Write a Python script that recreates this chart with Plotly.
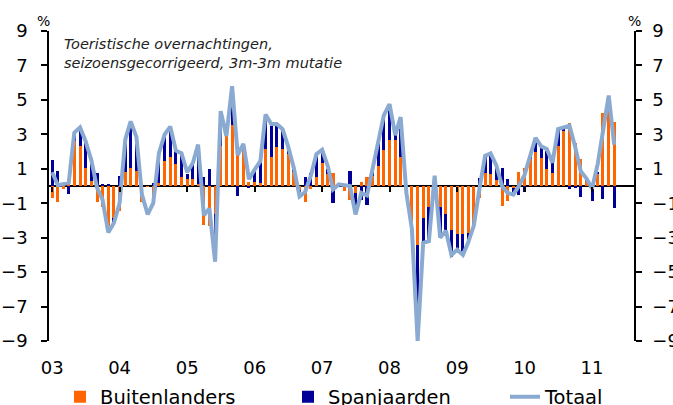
import pandas as pd
import plotly.graph_objects as go

months = pd.date_range("2003-01-01", periods=101, freq="MS").strftime("%Y-%m-%d").tolist()

buitenlanders = [
    -0.7, -0.9, -0.15, 0.2, 2.6, 2.3, 1.05, 0.3, -0.95, -1.2,
    -2.35, -1.85, -1.45, 0.8, 1.05, 0.9, -0.9, -0.05, -1.05, 0.15,
    1.45, 1.7, 1.25, 0.5, 0.4, 0.4, 0.1, -2.25, -2.35, -1.65,
    2.3, 2.95, 3.55, 2.4, 2.35, 0.25, 0.25, 0.15, 2.15, 1.7,
    2.25, 2.15, 1.85, 0.8, -0.25, -0.9, -0.2, 0.55, 1.35, 0.7,
    0.75, 0.1, -0.3, -0.8, -0.4, 0.25, 0.5, 0.6, 1.15, 2.1,
    2.7, 2.7, 1.7, -0.3, -2.35, -3.45, -1.85, -1.2, -0.1, -1.2,
    -1.65, -2.55, -2.8, -2.8, -2.75, -2.15, -0.7, 0.75, 0.7, 0.35,
    -1.15, -0.85, -0.1, 0.8, 1.05, 1.6, 2.0, 1.6, 1.0, 0.75,
    2.35, 3.2, 3.65, 2.5, 1.55, 0.3, 0.15, 0.7, 4.25, 4.9,
    3.7,
]
spanjaarden = [
    1.5, 0.9, 0.2, -0.45, 0.55, 1.1, 1.55, 1.3, 0.75, 0.1,
    0.1, -0.25, 0.6, 1.9, 2.7, 1.9, 0.0, 0.0, 0.2, 1.75,
    1.55, 1.75, 0.85, 1.3, 0.3, 0.95, 2.3, 0.55, 1.0, -2.7,
    2.05, 0.0, 2.25, -0.6, 0.1, -0.1, 0.75, 1.3, 1.9, 1.85,
    1.3, 1.1, 0.4, 0.2, -0.1, 0.5, 0.75, 1.3, 0.65, 0.3,
    -1.0, -0.05, 0.05, 0.85, -1.2, -0.8, -1.1, 0.3, 1.35, 2.0,
    2.05, 0.25, 2.3, 0.0, -0.25, -5.45, -1.45, -2.0, 0.3, -1.75,
    -0.9, -1.55, -0.9, -1.2, -0.55, -0.1, 0.45, 1.0, 1.05, 0.85,
    1.05, 0.4, -0.4, -0.55, -0.35, 0.1, 0.8, 0.75, 1.05, 0.65,
    0.95, 0.2, -0.15, -0.1, -0.65, 0.05, -0.85, 0.1, -0.75, 0.3,
    -1.25,
]
totaal = [
    0.8, 0.05, 0.1, 0.2, 3.1, 3.4, 2.6, 1.5, -0.1, -0.8,
    -2.7, -2.15, -1.0, 2.7, 3.75, 2.85, -0.5, -1.65, -1.0, 1.9,
    3.0, 3.45, 2.05, 1.9, 0.8, 1.35, 2.4, -1.7, -1.3, -4.4,
    4.35, 2.9, 5.8, 1.8, 2.45, 0.4, 0.95, 1.45, 4.15, 3.6,
    3.6, 3.3, 2.3, 1.05, -0.6, -0.35, 0.6, 1.85, 2.1, 1.15,
    -0.2, 0.1, 0.05, 0.0, -1.65, -0.4, -0.55, 0.9, 2.4, 4.1,
    4.75, 2.95, 4.0, -0.4, -2.5, -9.0, -3.3, -3.2, 0.6, -3.0,
    -2.6, -4.0, -3.7, -4.0, -3.3, -2.3, -0.2, 1.75, 1.9, 1.2,
    0.0, -0.4, -0.5, 0.0, 0.65, 1.7, 2.8, 2.3, 2.15, 1.35,
    3.3, 3.4, 3.5, 2.3, 0.85, 0.45, -0.15, 1.3, 3.05, 5.25,
    2.4,
]

year_ticks = ["2003-01-01", "2004-01-01", "2005-01-01", "2006-01-01", "2007-01-01",
              "2008-01-01", "2009-01-01", "2010-01-01", "2011-01-01"]
year_labels = ["03", "04", "05", "06", "07", "08", "09", "10", "11"]
y_ticks = [-9, -7, -5, -3, -1, 1, 3, 5, 7, 9]

FONT = "DejaVu Sans"
ORANGE = "#FF6600"
NAVY = "#000099"
LINEC = "#8AAAD2"
BAR_W = 16.5 * 86400000
W, H = 673, 405

fig = go.Figure()
fig.add_trace(go.Bar(x=months, y=buitenlanders, name="Buitenlanders", legend="legend",
                     marker=dict(color=ORANGE, line=dict(width=0)), width=BAR_W))
fig.add_trace(go.Bar(x=months, y=spanjaarden, name="Spanjaarden", legend="legend2",
                     marker=dict(color=NAVY, line=dict(width=0)), width=BAR_W))
fig.add_trace(go.Scatter(x=months, y=totaal, name="Totaal", mode="lines", legend="legend3",
                         line=dict(color=LINEC, width=4)))
# invisible helper traces that carry the right-hand y axis and the zero-line tick axis
fig.add_trace(go.Scatter(x=months, y=totaal, yaxis="y2", mode="lines",
                         line=dict(color="rgba(0,0,0,0)", width=0),
                         showlegend=False, hoverinfo="skip"))
fig.add_trace(go.Scatter(x=months, y=totaal, xaxis="x2", mode="lines",
                         line=dict(color="rgba(0,0,0,0)", width=0),
                         showlegend=False, hoverinfo="skip"))

x_range = ["2002-12-15", "2011-08-16"]

def leg(x_px):
    return dict(xref="container", yref="container", x=x_px / W, xanchor="left",
                y=1 - 397 / H, yanchor="middle", orientation="h",
                font=dict(size=19.5, family=FONT), bgcolor="rgba(0,0,0,0)")

fig.update_layout(
    width=W, height=H,
    margin=dict(l=49, r=39, t=31, b=64, autoexpand=False),
    paper_bgcolor="white", plot_bgcolor="white",
    barmode="relative", bargap=0,
    font=dict(family=FONT, size=18, color="#000000"),
    xaxis=dict(type="date", range=x_range, tickvals=year_ticks, ticktext=year_labels,
               ticks="", showline=False, showgrid=False, zeroline=False, automargin=False,
               tickfont=dict(size=18), ticklabelstandoff=14),
    xaxis2=dict(type="date", range=x_range, overlaying="x", anchor="free", position=0.5,
                tickvals=year_ticks, ticks="outside", ticklen=5, tickwidth=1.5,
                tickcolor="#000000", showticklabels=False, showline=False,
                showgrid=False, zeroline=False, automargin=False),
    yaxis=dict(range=[-9, 9], tickvals=y_ticks, showgrid=False, zeroline=True,
               zerolinecolor="#000000", zerolinewidth=1.5, automargin=False,
               showline=True, linecolor="#000000", linewidth=1.5,
               ticks="outside", ticklen=6, tickwidth=1.5, tickcolor="#000000",
               tickfont=dict(size=18), ticklabelstandoff=10),
    yaxis2=dict(range=[-9, 9], tickvals=y_ticks, overlaying="y", side="right",
                showgrid=False, zeroline=False, automargin=False,
                showline=True, linecolor="#000000", linewidth=1.5,
                ticks="outside", ticklen=6, tickwidth=1.5, tickcolor="#000000",
                tickfont=dict(size=18), ticklabelstandoff=7),
    legend=leg(60),
    legend2=leg(288),
    legend3=leg(505),
    showlegend=True,
)

fig.add_annotation(text="<i>Toeristische overnachtingen,<br>seizoensgecorrigeerd, 3m-3m mutatie</i>",
                   xref="paper", yref="paper", x=0.022, y=0.99, xanchor="left", yanchor="top",
                   align="left", showarrow=False, font=dict(size=14.5, color="#222222"))
fig.add_annotation(text="%", xref="paper", yref="paper", x=-0.01, y=1.0, yanchor="bottom",
                   xanchor="center", showarrow=False, font=dict(size=14))
fig.add_annotation(text="%", xref="paper", yref="paper", x=1.0, y=1.0, yanchor="bottom",
                   xanchor="center", showarrow=False, font=dict(size=14))

fig.write_html("out.html", config={"displayModeBar": False},
               post_script="document.body.style.margin='0px';document.body.style.overflow='hidden';")
